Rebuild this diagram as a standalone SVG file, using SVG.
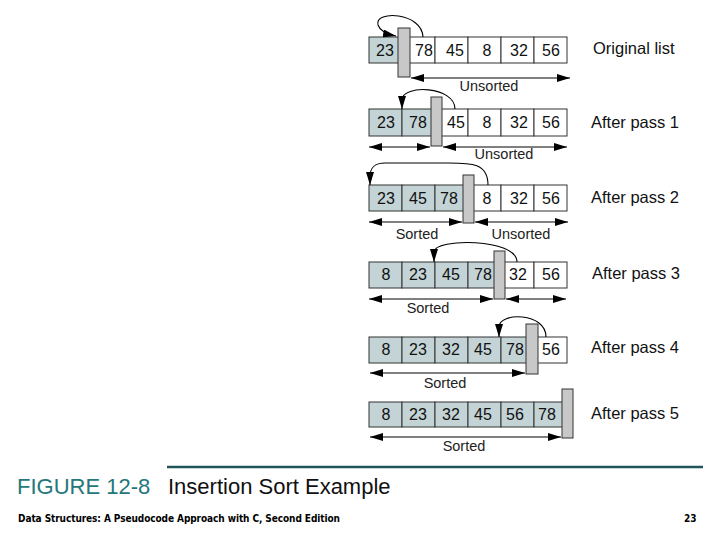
<svg xmlns="http://www.w3.org/2000/svg" width="720" height="540" viewBox="0 0 720 540">
<defs>
<marker id="ah" viewBox="0 0 13 8" refX="13" refY="4" markerWidth="13" markerHeight="8" markerUnits="userSpaceOnUse" orient="auto-start-reverse">
<path d="M0,0 L13,4 L0,8 Z" fill="#000"/>
</marker>
</defs>
<style>
.s{fill:#c3d3d6;stroke:#333;stroke-width:1}
.u{fill:#fff;stroke:#333;stroke-width:1}
.w{fill:#c8c8c8;stroke:#333;stroke-width:1}
.n{font-family:"Liberation Sans",Arial,sans-serif;font-size:16px;fill:#111;text-anchor:middle}
.lab{font-family:"Liberation Sans",Arial,sans-serif;font-size:16.5px;fill:#111}
.sub{font-family:"Liberation Sans",Arial,sans-serif;font-size:14.5px;fill:#222;text-anchor:middle}
.arc{fill:none;stroke:#000;stroke-width:1.1;marker-end:url(#ah)}
.dbl{stroke:#000;stroke-width:1.1;marker-start:url(#ah);marker-end:url(#ah)}
</style>
<rect width="720" height="540" fill="#fff"/>

<g id="row1">
<rect class="s" x="369" y="37" width="33" height="26"/>
<rect class="u" x="402" y="37" width="33" height="26"/>
<rect class="u" x="435" y="37" width="33" height="26"/>
<rect class="u" x="468" y="37" width="33" height="26"/>
<rect class="u" x="501" y="37" width="33" height="26"/>
<rect class="u" x="534" y="37" width="33" height="26"/>
<text class="n" x="385" y="56">23</text><text class="n" x="424" y="56">78</text><text class="n" x="455" y="56">45</text><text class="n" x="487" y="56">8</text><text class="n" x="519" y="56">32</text><text class="n" x="551" y="56">56</text>
<rect class="w" x="398" y="28" width="12" height="49"/>
<text class="lab" x="593" y="54">Original list</text>
</g>

<g id="row2">
<rect class="s" x="369" y="109" width="33" height="27"/>
<rect class="s" x="402" y="109" width="33" height="27"/>
<rect class="u" x="435" y="109" width="33" height="27"/>
<rect class="u" x="468" y="109" width="33" height="27"/>
<rect class="u" x="501" y="109" width="33" height="27"/>
<rect class="u" x="534" y="109" width="33" height="27"/>
<text class="n" x="386" y="128">23</text><text class="n" x="418" y="128">78</text><text class="n" x="456" y="128">45</text><text class="n" x="487" y="128">8</text><text class="n" x="519" y="128">32</text><text class="n" x="551" y="128">56</text>
<rect class="w" x="431" y="97" width="11" height="49"/>
<text class="lab" x="591" y="128">After pass 1</text>
</g>

<g id="row3">
<rect class="s" x="369" y="185" width="33" height="26"/>
<rect class="s" x="402" y="185" width="33" height="26"/>
<rect class="s" x="435" y="185" width="33" height="26"/>
<rect class="u" x="468" y="185" width="33" height="26"/>
<rect class="u" x="501" y="185" width="33" height="26"/>
<rect class="u" x="534" y="185" width="33" height="26"/>
<text class="n" x="386" y="204">23</text><text class="n" x="418" y="204">45</text><text class="n" x="449" y="204">78</text><text class="n" x="487" y="204">8</text><text class="n" x="519" y="204">32</text><text class="n" x="551" y="204">56</text>
<rect class="w" x="463" y="175" width="11" height="48"/>
<text class="lab" x="591" y="203">After pass 2</text>
</g>

<g id="row4">
<rect class="s" x="369" y="262" width="33" height="26"/>
<rect class="s" x="402" y="262" width="33" height="26"/>
<rect class="s" x="435" y="262" width="33" height="26"/>
<rect class="s" x="468" y="262" width="33" height="26"/>
<rect class="u" x="501" y="262" width="33" height="26"/>
<rect class="u" x="534" y="262" width="33" height="26"/>
<text class="n" x="386" y="280">8</text><text class="n" x="418" y="280">23</text><text class="n" x="451" y="280">45</text><text class="n" x="483" y="280">78</text><text class="n" x="518" y="280">32</text><text class="n" x="551" y="280">56</text>
<rect class="w" x="494" y="251" width="11" height="48"/>
<text class="lab" x="592" y="279">After pass 3</text>
</g>

<g id="row5">
<rect class="s" x="369" y="337" width="33" height="26"/>
<rect class="s" x="402" y="337" width="33" height="26"/>
<rect class="s" x="435" y="337" width="33" height="26"/>
<rect class="s" x="468" y="337" width="33" height="26"/>
<rect class="s" x="501" y="337" width="33" height="26"/>
<rect class="u" x="534" y="337" width="33" height="26"/>
<text class="n" x="386" y="355">8</text><text class="n" x="418" y="355">23</text><text class="n" x="451" y="355">32</text><text class="n" x="483" y="355">45</text><text class="n" x="515" y="355">78</text><text class="n" x="551" y="355">56</text>
<rect class="w" x="526" y="324" width="12" height="50"/>
<text class="lab" x="591" y="353">After pass 4</text>
</g>

<g id="row6">
<rect class="s" x="369" y="402" width="33" height="25"/>
<rect class="s" x="402" y="402" width="33" height="25"/>
<rect class="s" x="435" y="402" width="33" height="25"/>
<rect class="s" x="468" y="402" width="33" height="25"/>
<rect class="s" x="501" y="402" width="33" height="25"/>
<rect class="s" x="534" y="402" width="33" height="25"/>
<text class="n" x="386" y="420">8</text><text class="n" x="418" y="420">23</text><text class="n" x="451" y="420">32</text><text class="n" x="483" y="420">45</text><text class="n" x="515" y="420">56</text><text class="n" x="547" y="420">78</text>
<rect class="w" x="562" y="389" width="11" height="49"/>
<text class="lab" x="591" y="419">After pass 5</text>
</g>

<g id="connectors">
<path class="arc" d="M423,37 C422,12 374,10 378,25 C380,31 386,34 396,36"/>
<path class="arc" d="M455,109 C455,86 402,84 402,100 L402,109"/>
<path class="arc" d="M488,185 C488,162 470,163 445,163 L385,163 C372,163 370,170 370,177 L370,185"/>
<path class="arc" d="M517,262 C517,238 434,238 434,252 L434,262"/>
<path class="arc" d="M546,337 C546,312 499,312 499,327 L499,337"/>

<line class="dbl" x1="411" y1="78" x2="570" y2="78"/>
<line class="dbl" x1="369" y1="147" x2="430" y2="147"/>
<line class="dbl" x1="443" y1="147" x2="567" y2="147"/>
<line class="dbl" x1="369" y1="222" x2="462" y2="222"/>
<line class="dbl" x1="475" y1="222" x2="568" y2="222"/>
<line class="dbl" x1="369" y1="299" x2="493" y2="299"/>
<line class="dbl" x1="506" y1="299" x2="566" y2="299"/>
<line class="dbl" x1="370" y1="373" x2="525" y2="373"/>
<line class="dbl" x1="370" y1="437" x2="561" y2="437"/>

<text class="sub" x="489" y="91">Unsorted</text>
<text class="sub" x="504" y="159">Unsorted</text>
<text class="sub" x="417" y="239">Sorted</text>
<text class="sub" x="521" y="239">Unsorted</text>
<text class="sub" x="428" y="313">Sorted</text>
<text class="sub" x="445" y="388">Sorted</text>
<text class="sub" x="464" y="451">Sorted</text>
</g>

<g id="caption">
<line x1="167" y1="467" x2="703" y2="467" stroke="#1f5557" stroke-width="2.5"/>
<text x="17" y="494" font-family="'Liberation Sans',Arial,sans-serif" font-size="22px" fill="#24777a">FIGURE 12-8</text>
<text x="168" y="494" font-family="'Liberation Sans',Arial,sans-serif" font-size="22px" fill="#111">Insertion Sort Example</text>
<text x="18" y="522" font-family="'DejaVu Sans Condensed','Liberation Sans Narrow',sans-serif" font-weight="bold" font-size="10px" fill="#000" textLength="322">Data Structures: A Pseudocode Approach with C, Second Edition</text>
<text x="684" y="522" font-family="'DejaVu Sans Condensed','Liberation Sans Narrow',sans-serif" font-weight="bold" font-size="10px" fill="#000">23</text>
</g>
</svg>
